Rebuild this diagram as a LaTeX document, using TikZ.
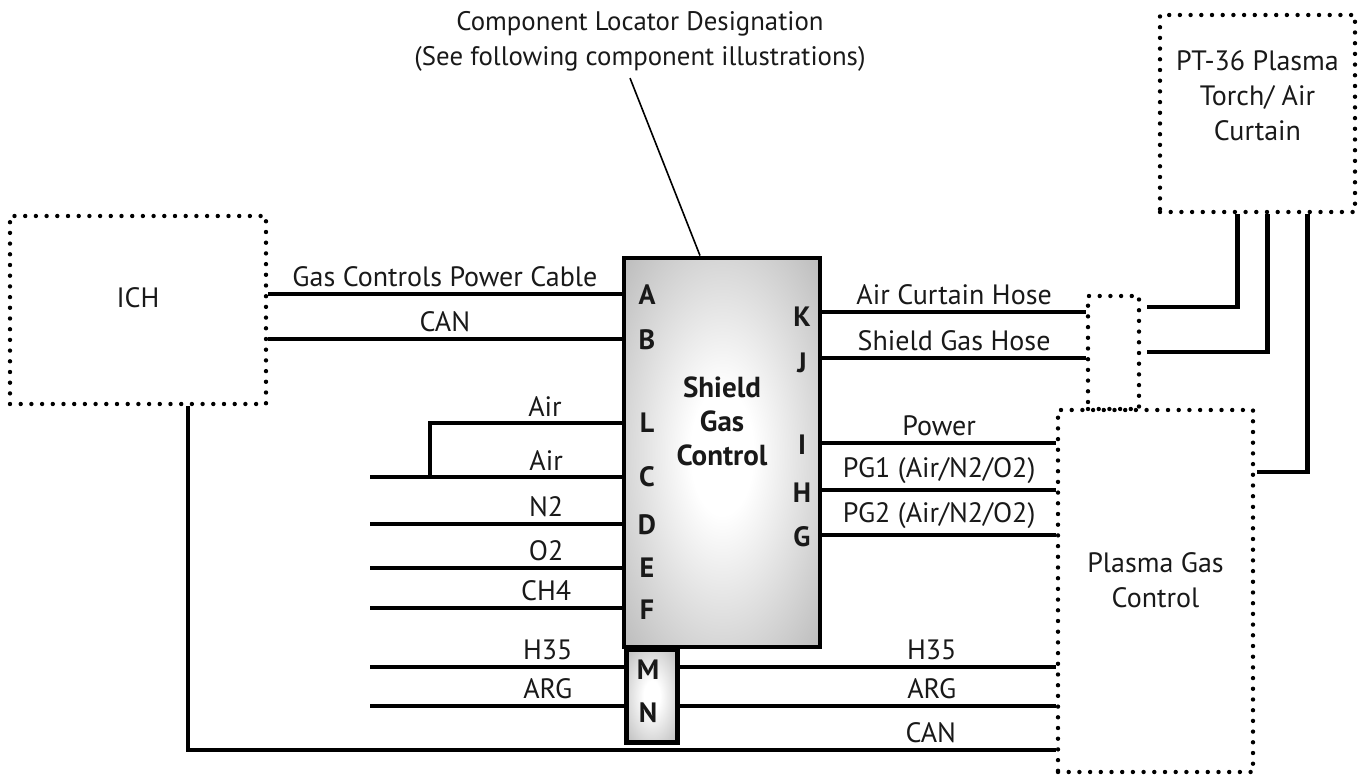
\documentclass[tikz,border=0pt]{standalone}
\usepackage{fontspec}
\setmainfont{PT Sans}
\usetikzlibrary{positioning, calc}
\pgfdeclareradialshading{ctrlshade}{\pgfpoint{0bp}{0bp}}{%
  color(0bp)=(white); color(8bp)=(white); color(50bp)=(black!40); color(72bp)=(black!52)}

\begin{document}
\begin{tikzpicture}[
    x=0.5pt, y=-0.5pt,
    % dotted outline of the outside units
    unitbox/.style={
        draw,
        line width=2.2pt,
        dash pattern=on 0pt off 5.35pt,
        line cap=round,
        inner sep=0pt
    },
    unittext/.style={
        font=\fontsize{14}{17.5}\selectfont,
        align=center,
        text=black!90
    },
    % shaded gas control boxes
    ctrlbox/.style={
        draw,
        line width=2.4pt,
        shading=ctrlshade,
        inner sep=0pt
    },
    pinlabel/.style={
        font=\fontsize{14}{15}\selectfont\bfseries,
        text=black!90,
        inner sep=0pt
    },
    wire/.style={line width=2.3pt},
    wirelabel/.style={
        above,
        inner sep=2.2pt,
        font=\fontsize{14}{15}\selectfont,
        text=black!90
    },
    leader/.style={line width=0.8pt}
]

    \useasboundingbox (0,0) rectangle (1362,775);

    % --- 1. Units ---

    % ICH
    \node[unitbox, minimum width=128pt, minimum height=94pt,
          label={[unittext, yshift=6pt]center:ICH}] (ich) at (138,310) {};

    % Shield Gas Control and its M/N block
    \node[ctrlbox, minimum width=25.5pt, minimum height=46.5pt, anchor=north west]
        (mn) at (624,647) {};
    \node[ctrlbox, minimum width=98pt, minimum height=194.5pt,
          label={[unittext, font=\fontsize{14.5}{17}\selectfont\bfseries, yshift=15.5pt]center:Shield\\Gas\\Control}]
        (sgc) at (722,452.5) {};

    % PT-36 torch
    \node[unitbox, minimum width=97.5pt, minimum height=98.5pt,
          label={[unittext, yshift=9pt]center:PT-36 Plasma\\Torch/ Air\\Curtain}] (torch) at (1257.5,113.5) {};

    % hose junction
    \node[unitbox, minimum width=25.5pt, minimum height=56.5pt] (junc) at (1113.5,352.5) {};

    % Plasma Gas Control
    \node[unitbox, minimum width=97.5pt, minimum height=181pt,
          label={[unittext, yshift=5.5pt]center:Plasma Gas\\Control}] (pgc) at (1155.5,591) {};

    % --- 2. Locator note ---
    \node[unittext, font=\fontsize{13.4}{17.5}\selectfont] (locator) at (640,41)
        {Component Locator Designation\\(See following component illustrations)};
    \draw[leader] ([xshift=-5pt]locator.south) -- ([xshift=-11pt]sgc.north);

    % --- 3. Pin letters ---
    \foreach \p/\x/\y in {A/647/295, B/647/340, L/647/423, C/647/477, D/647/525,
                          E/647/568, F/647/610, K/802/317, J/802/363, I/802/445,
                          H/802/493, G/802/537, M/648/670, N/648/713}
        \node[pinlabel] (p\p) at (\x,\y) {\p};

    % wire ends
    \foreach \p/\y in {A/294, B/339, L/423, C/477, D/524, E/568, F/608}
        \coordinate (w\p) at (sgc.west |- 0,\y);
    \foreach \p/\y in {K/312, J/358, I/443, H/490, G/535}
        \coordinate (w\p) at (sgc.east |- 0,\y);
    \coordinate (wM) at (mn.west |- 0,667);
    \coordinate (wN) at (mn.west |- 0,706);
    \coordinate (vM) at (mn.east |- 0,667);
    \coordinate (vN) at (mn.east |- 0,706);
    \foreach \p in {C, D, E, F, M, N}
        \coordinate (in\p) at (370,0 |- w\p);
    \coordinate (airtap) at (430,477);

    % --- 4. Wires ---
    \draw[wire] (ich.east |- wA) -- node[wirelabel] {Gas Controls Power Cable} (wA);
    \draw[wire] (ich.east |- wB) -- node[wirelabel] {CAN} (wB);
    \draw[wire] (wL) -- node[wirelabel, pos=0.4] {Air} (airtap |- wL) -- (airtap);
    \foreach \p/\t in {C/Air, D/N2, E/O2, F/CH4, M/H35, N/ARG}
        \draw[wire] (in\p) -- node[wirelabel, pos=0.7] {\t} (w\p);

    \draw[wire] (wK) -- node[wirelabel] {Air Curtain Hose} (junc.west |- wK);
    \draw[wire] (wJ) -- node[wirelabel] {Shield Gas Hose} (junc.west |- wJ);
    \draw[wire] (wI) -- node[wirelabel] {Power} (pgc.west |- wI);
    \draw[wire] (wH) -- node[wirelabel] {PG1 (Air/N2/O2)} (pgc.west |- wH);
    \draw[wire] (wG) -- node[wirelabel] {PG2 (Air/N2/O2)} (pgc.west |- wG);
    \draw[wire] (vM) -- node[wirelabel, pos=0.67] {H35} (pgc.west |- vM);
    \draw[wire] (vN) -- node[wirelabel, pos=0.67] {ARG} (pgc.west |- vN);
    \draw[wire] ([xshift=25pt]ich.south) |- node[wirelabel, pos=0.928] {CAN} (pgc.west |- 0,750);

    % hoses up to the torch
    \draw[wire] ([xshift=3pt]junc.east |- 0,307) -| ([xshift=-10pt]torch.south);
    \draw[wire] ([xshift=3pt]junc.east |- 0,352) -| ([xshift=5pt]torch.south);
    \draw[wire] ([xshift=1pt]pgc.east |- 0,472) -| ([xshift=25pt]torch.south);

\end{tikzpicture}
\end{document}
